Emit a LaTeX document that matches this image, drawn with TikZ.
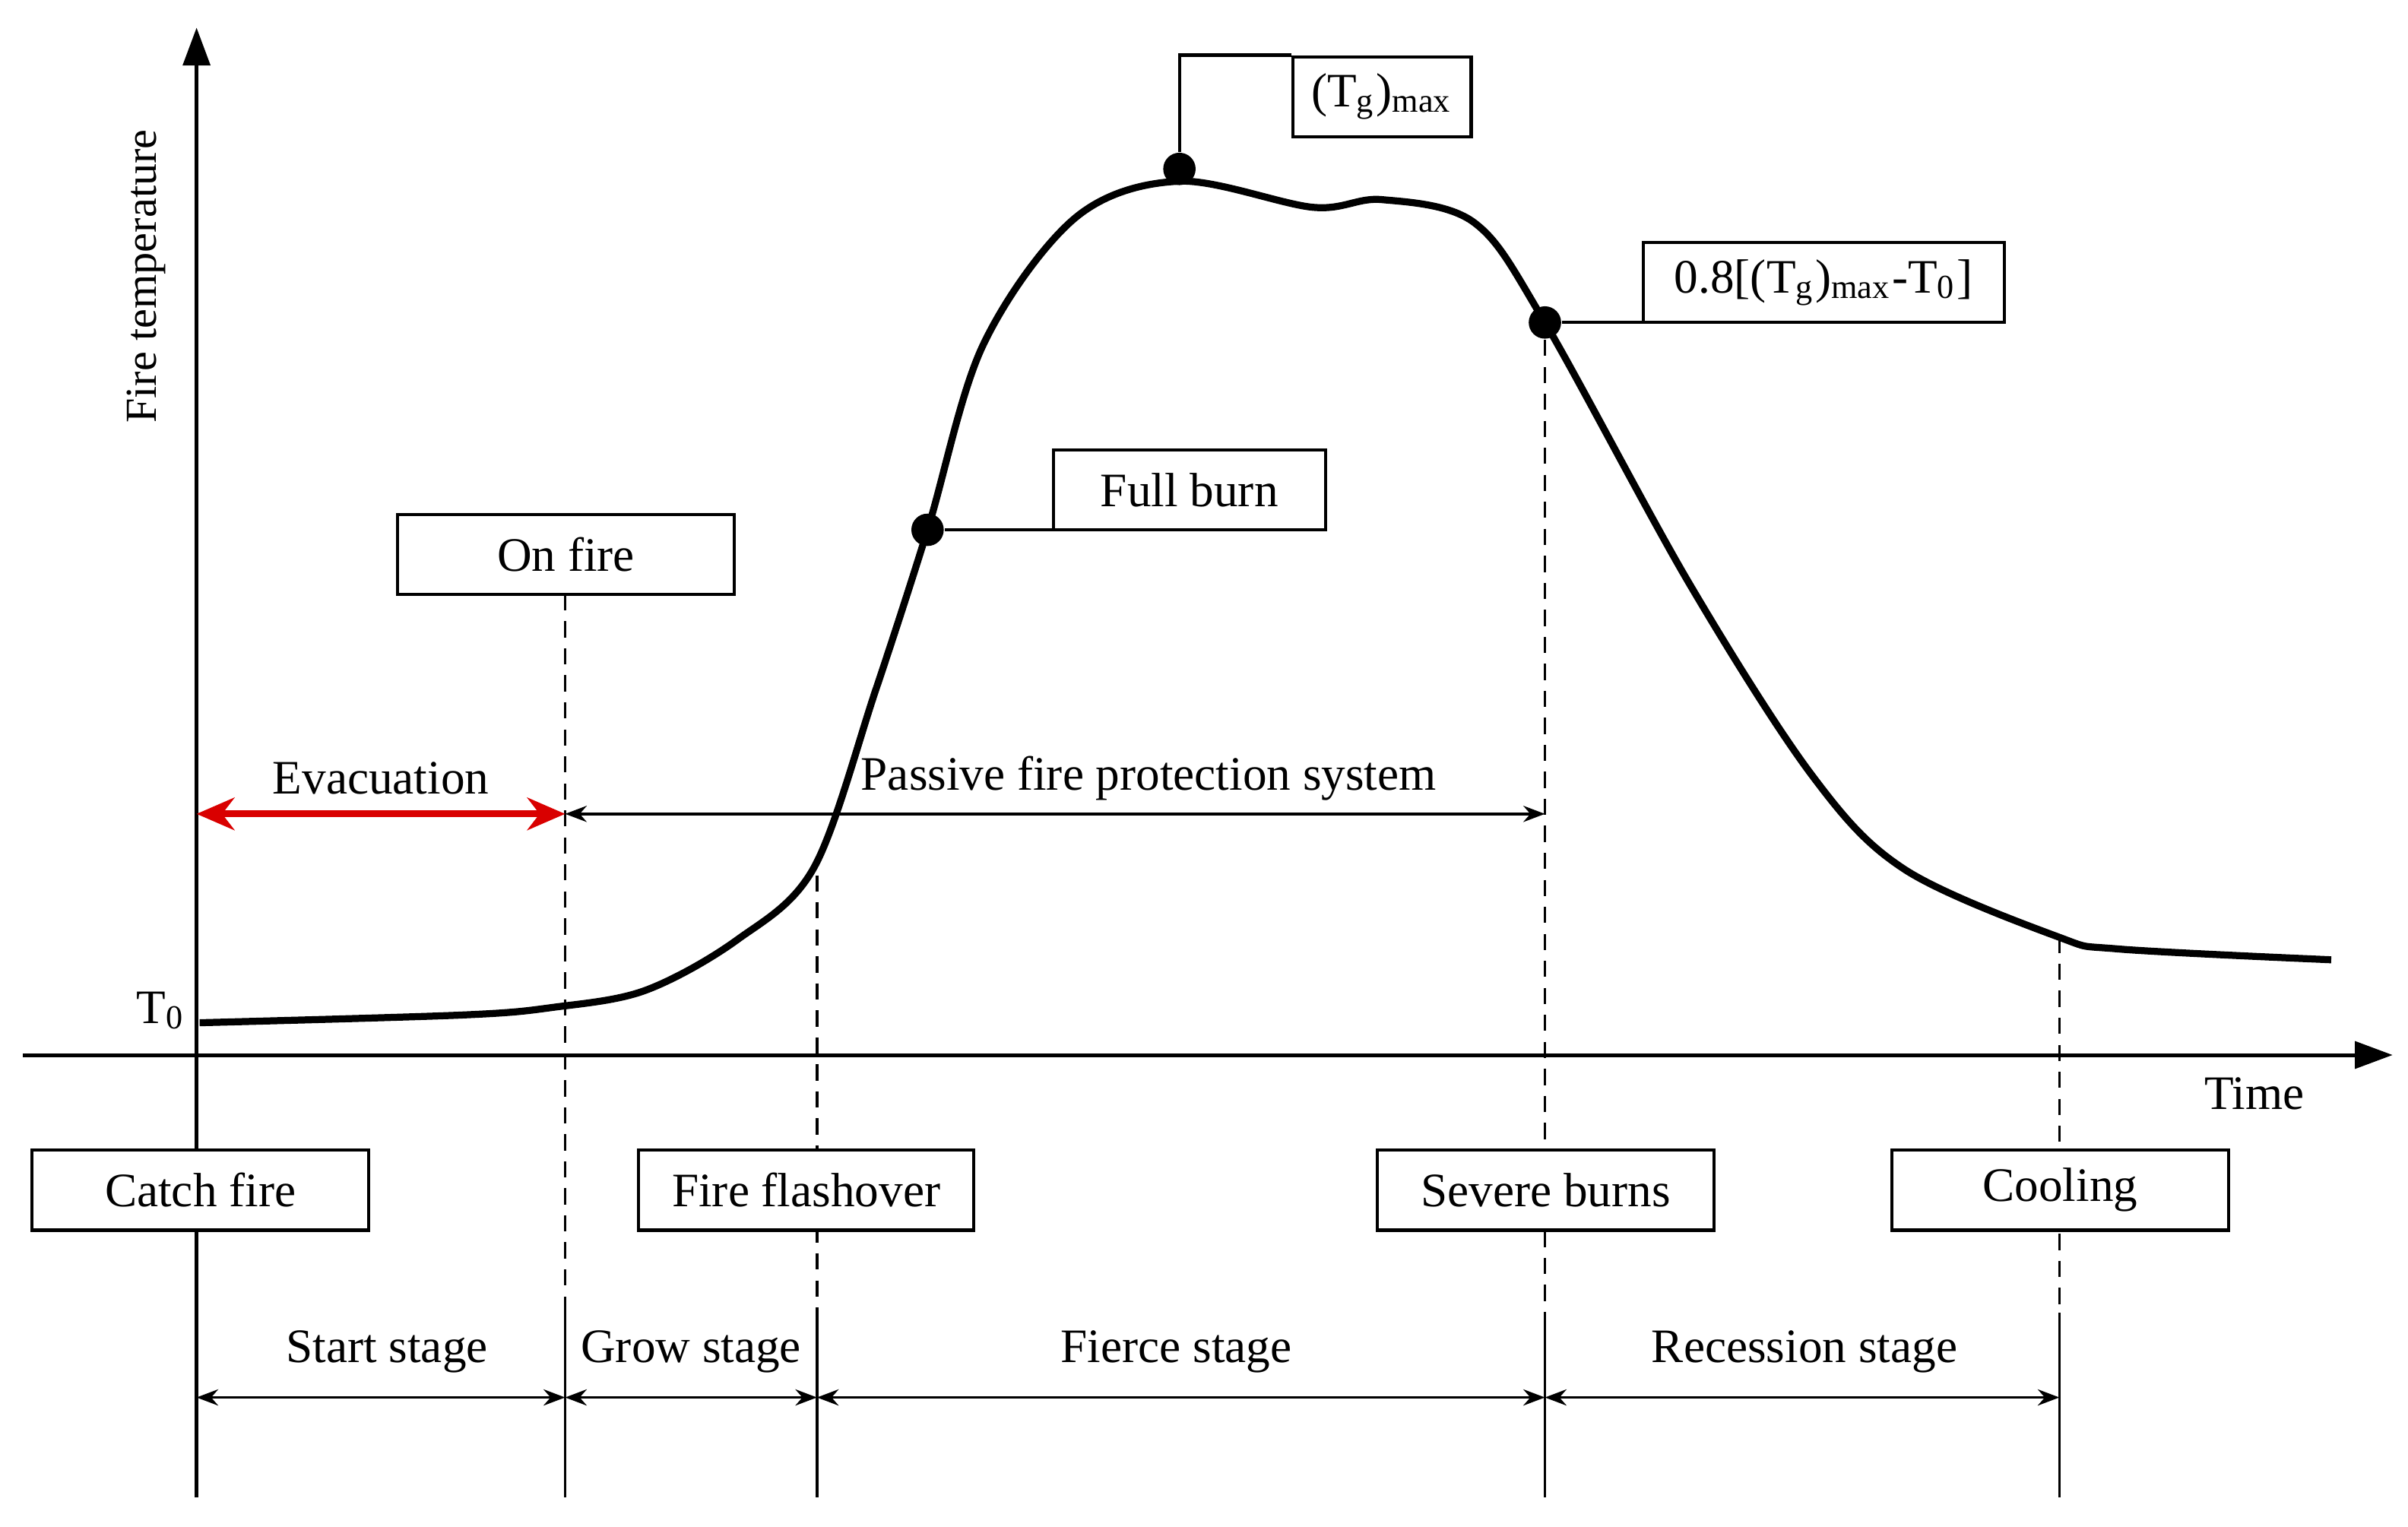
\documentclass[tikz,border=0pt]{standalone}
\usepackage{fontspec}
\setmainfont{Liberation Serif}
\usetikzlibrary{arrows.meta}
\begin{document}
\begin{tikzpicture}[x=0.01cm,y=-0.01cm,
  box/.style={draw,fill=white,line width=0.6pt,inner sep=0pt,font=\fontsize{8.9}{10}\selectfont},
  lbl/.style={font=\fontsize{8.9}{10}\selectfont,inner sep=1pt},
  guide/.style={line width=0.5pt,dash pattern=on 3pt off 2pt},
  solidl/.style={line width=0.5pt},
  dim/.style={{Stealth[length=4pt,width=3pt]}-{Stealth[length=4pt,width=3pt]},line width=0.5pt},
  dot/.style={circle,fill,inner sep=0pt,minimum size=6pt}]
\useasboundingbox (0,0) rectangle (1568,994);
% axes
\coordinate (yb) at (128,975); \coordinate (yt) at (128,18);
\coordinate (xl) at (15,687); \coordinate (xr) at (1558,687);
\draw[line width=0.7pt,-{Triangle[length=7pt,width=5pt]}] (yb) -- (yt);
\draw[line width=0.7pt,-{Triangle[length=7pt,width=5pt]}] (xl) -- (xr);
\node[lbl,rotate=90,font=\fontsize{8.2}{9}\selectfont] (ft) at (95,180) {Fire temperature};
\node[lbl] (t0) at (105,658) {T\textsubscript{0}};
\node[lbl] (time) at (1468,712) {Time};
% curve
\draw[line width=1.3pt] plot[smooth,tension=0.55] coordinates {(130,666) (300,661) (360,656) (420,645) (480,612) (530,565) (570,450) (604,345) (640,225) (700,142) (768,118) (855,135) (900,130) (960,145) (1006,210) (1100,380) (1180,505) (1240,566) (1340,610) (1380,618) (1518,625)};
\node[dot] (pmax) at (768,110) {};
\node[dot] (pfull) at (604,345) {};
\node[dot] (p08) at (1006,210) {};
% vertical guides
\coordinate (a0) at (368,387); \coordinate (a1) at (368,855); \coordinate (a2) at (368,975);
\coordinate (b0) at (532,570); \coordinate (b1) at (532,855); \coordinate (b2) at (532,975);
\coordinate (c1) at (1006,855); \coordinate (c2) at (1006,975);
\coordinate (d0) at (1341,610); \coordinate (d1) at (1341,855); \coordinate (d2) at (1341,975);
\draw[guide] (a0) -- (a1); \draw[solidl] (a1) -- (a2);
\draw[guide] (b0) -- (b1); \draw[solidl] (b1) -- (b2);
\draw[guide] (p08) -- (c1); \draw[solidl] (c1) -- (c2);
\draw[guide] (d0) -- (d1); \draw[solidl] (d1) -- (d2);
% boxes
\node[box,minimum width=1.16cm,minimum height=0.52cm] (bmax) at (900,63) {(T\textsubscript{g})\textsubscript{max}};
\node[box,minimum width=2.35cm,minimum height=0.52cm] (b08) at (1187.5,184) {0.8[(T\textsubscript{g})\textsubscript{max}-T\textsubscript{0}]};
\node[box,minimum width=1.77cm,minimum height=0.52cm] (bfull) at (774.5,319) {Full burn};
\node[box,minimum width=2.19cm,minimum height=0.52cm] (bon) at (368.5,361) {On fire};
\draw[line width=0.6pt] (pmax) |- (bmax.north west);
\draw[line width=0.6pt] (p08) -- (p08 -| b08.west);
\draw[line width=0.6pt] (pfull) -- (pfull -| bfull.west);
\node[box,minimum width=2.19cm,minimum height=0.52cm] (bcatch) at (130.5,775) {Catch fire};
\node[box,minimum width=2.18cm,minimum height=0.52cm] (bflash) at (525,775) {Fire flashover};
\node[box,minimum width=2.19cm,minimum height=0.52cm] (bsev) at (1006.5,775) {Severe burns};
\node[box,minimum width=2.19cm,minimum height=0.52cm] (bcool) at (1341.5,775) {Cooling};
% arrows
\coordinate (e0) at (128,530); \coordinate (e1) at (368,530); \coordinate (e2) at (1006,530);
\draw[{Stealth[length=7pt,width=6pt]}-{Stealth[length=7pt,width=6pt]},line width=1.3pt,red!85!black] (e0) -- (e1);
\draw[dim] (e1) -- (e2);
\node[lbl] (evac) at (248,507) {Evacuation};
\node[lbl] (pass) at (748,507) {Passive fire protection system};
\coordinate (s0) at (128,910); \coordinate (s1) at (368,910); \coordinate (s2) at (532,910);
\coordinate (s3) at (1006,910); \coordinate (s4) at (1341,910);
\draw[dim] (s0) -- (s1); \draw[dim] (s1) -- (s2); \draw[dim] (s2) -- (s3); \draw[dim] (s3) -- (s4);
\node[lbl] (st1) at (252,880) {Start stage};
\node[lbl] (st2) at (450,880) {Grow stage};
\node[lbl] (st3) at (766,880) {Fierce stage};
\node[lbl] (st4) at (1175,880) {Recession stage};
\end{tikzpicture}
\end{document}
